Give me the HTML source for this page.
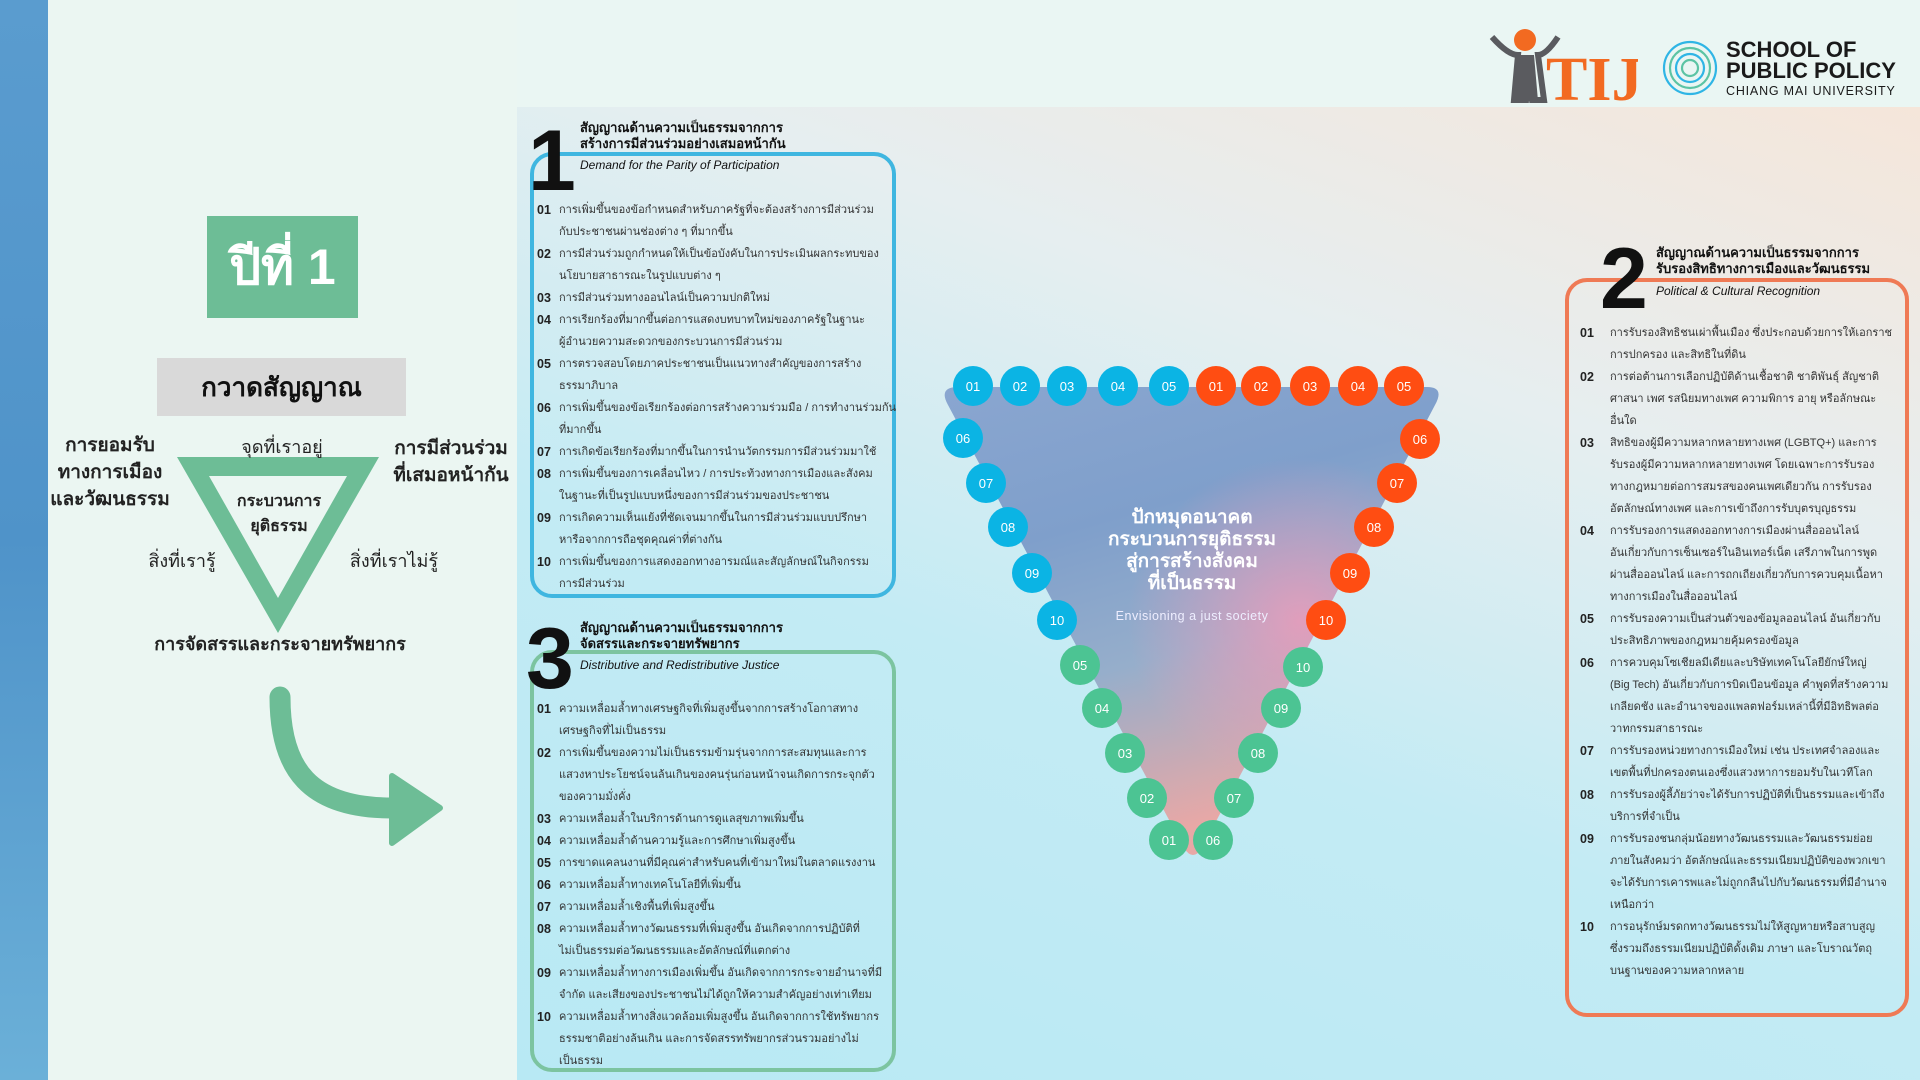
<!DOCTYPE html>
<html><head><meta charset="utf-8">
<style>
*{margin:0;padding:0;box-sizing:border-box}
body{width:1920px;height:1080px;overflow:hidden;position:relative;font-family:"Liberation Sans","DejaVu Sans","Noto Sans CJK SC",sans-serif;background:#eaf5f2;color:#222}
.abs{position:absolute}
.strip{left:0;top:0;width:48px;height:1080px;background:linear-gradient(180deg,#5a9ccf,#4f93c9 50%,#6bb0d8)}
.leftp{left:48px;top:0;width:469px;height:1080px;background:#ebf6f2}
.topb{left:517px;top:0;width:1403px;height:107px;background:#eaf6f3}
.main{left:517px;top:107px;width:1403px;height:973px;background:linear-gradient(200deg,#f5e6da 0%,#e6eef0 30%,#c3ebf4 60%,#b8e9f4 100%)}
.box{position:absolute;border-radius:22px;border:4px solid}
.big{position:absolute;font-weight:900;color:#111;font-size:86px;line-height:1}
.tt{position:absolute;font-weight:bold;font-size:13px;line-height:16px;color:#111;white-space:nowrap}
.st{position:absolute;font-style:italic;font-size:12px;color:#111;white-space:nowrap}
.items{position:absolute;font-size:11px;line-height:22px;color:#333;white-space:nowrap}
.items div{position:relative;padding-left:22px}
.items b{position:absolute;left:0;font-weight:bold;color:#222;font-size:12.5px}
.c{position:absolute;width:40px;height:40px;border-radius:50%;color:#fff;font-size:13px;display:flex;align-items:center;justify-content:center;margin:-20px 0 0 -20px}
.bl{background:#0bb4e4}.or{background:#ff4d12}.gr{background:#4cc493}
.lbl{position:absolute;text-align:center;transform:translateX(-50%);white-space:nowrap}
</style></head><body>
<div class="abs strip"></div>
<div class="abs leftp"></div>
<div class="abs topb"></div>
<div class="abs main"></div>

<div class="abs" style="left:207px;top:216px;width:151px;height:102px;background:#6dbd96;color:#fff;font-weight:bold;font-size:50px;display:flex;align-items:center;justify-content:center">ปีที่ 1</div>
<div class="abs" style="left:157px;top:358px;width:249px;height:58px;background:#d9d9d9;font-weight:bold;font-size:26px;display:flex;align-items:center;justify-content:center;color:#111">กวาดสัญญาณ</div>
<svg class="abs" style="left:0;top:0" width="520" height="1080">
<polygon points="177,457 379,457 278,633" fill="#6dbd96"/>
<polygon points="209,476 347,476 278,598" fill="#ebf6f2"/>
<path d="M280,697 C280,770 310,808 392,808" fill="none" stroke="#6dbd96" stroke-width="21" stroke-linecap="round"/>
<polygon points="392,776 440,808 392,843" fill="#6dbd96" stroke="#6dbd96" stroke-width="6" stroke-linejoin="round"/>
</svg>
<div class="lbl" style="left:282px;top:432px;font-size:18px">จุดที่เราอยู่</div>
<div class="lbl" style="left:110px;top:432px;font-size:19px;font-weight:bold;line-height:27px">การยอมรับ<br>ทางการเมือง<br>และวัฒนธรรม</div>
<div class="lbl" style="left:451px;top:435px;font-size:19px;font-weight:bold;line-height:27px">การมีส่วนร่วม<br>ที่เสมอหน้ากัน</div>
<div class="lbl" style="left:279px;top:489px;font-size:16px;font-weight:bold;line-height:25px">กระบวนการ<br>ยุติธรรม</div>
<div class="lbl" style="left:182px;top:546px;font-size:18px">สิ่งที่เรารู้</div>
<div class="lbl" style="left:394px;top:546px;font-size:18px">สิ่งที่เราไม่รู้</div>
<div class="lbl" style="left:280px;top:629px;font-size:18px;font-weight:bold">การจัดสรรและกระจายทรัพยากร</div>

<svg class="abs" style="left:1488px;top:25px" width="150" height="80">
<circle cx="37" cy="15" r="11" fill="#f26a21"/>
<path d="M4,12 Q20,30 30,30 L26,75 L38,75 L40,45 L44,75 L56,75 L50,30 Q58,30 70,12" fill="none" stroke="#5a5b5f" stroke-width="6"/>
<path d="M30,30 L24,76 L50,76 L46,30Z" fill="#5a5b5f"/>
<text x="58" y="75" font-family="Liberation Serif" font-weight="bold" font-size="62" fill="#f26a21">TIJ</text>
</svg>
<svg class="abs" style="left:1660px;top:40px" width="60" height="60">
<g fill="none" stroke-width="2.2">
<circle cx="30" cy="28" r="26" stroke="#2fb5e5"/>
<circle cx="30" cy="28" r="20" stroke="#5cc4a4"/>
<circle cx="30" cy="28" r="14" stroke="#2fb5e5"/>
<circle cx="30" cy="28" r="8" stroke="#5cc4a4"/>
</g></svg>
<div class="abs" style="left:1726px;top:39px;font-weight:bold;font-size:22px;line-height:21px;color:#1a1a1a">SCHOOL OF<br>PUBLIC POLICY</div>
<div class="abs" style="left:1726px;top:84px;font-size:12.5px;letter-spacing:0.8px;color:#1a1a1a">CHIANG MAI UNIVERSITY</div>

<div class="box" style="left:530px;top:152px;width:366px;height:446px;border-color:#3fb6e0"></div>
<div class="big" style="left:528px;top:118px">1</div>
<div class="tt" style="left:580px;top:120px">สัญญาณด้านความเป็นธรรมจากการ<br>สร้างการมีส่วนร่วมอย่างเสมอหน้ากัน</div>
<div class="st" style="left:580px;top:158px">Demand for the Parity of Participation</div>
<div class="items" style="left:537px;top:199px">
<div><b>01</b>การเพิ่มขึ้นของข้อกำหนดสำหรับภาครัฐที่จะต้องสร้างการมีส่วนร่วม<br>กับประชาชนผ่านช่องต่าง ๆ ที่มากขึ้น</div>
<div><b>02</b>การมีส่วนร่วมถูกกำหนดให้เป็นข้อบังคับในการประเมินผลกระทบของ<br>นโยบายสาธารณะในรูปแบบต่าง ๆ</div>
<div><b>03</b>การมีส่วนร่วมทางออนไลน์เป็นความปกติใหม่</div>
<div><b>04</b>การเรียกร้องที่มากขึ้นต่อการแสดงบทบาทใหม่ของภาครัฐในฐานะ<br>ผู้อำนวยความสะดวกของกระบวนการมีส่วนร่วม</div>
<div><b>05</b>การตรวจสอบโดยภาคประชาชนเป็นแนวทางสำคัญของการสร้าง<br>ธรรมาภิบาล</div>
<div><b>06</b>การเพิ่มขึ้นของข้อเรียกร้องต่อการสร้างความร่วมมือ / การทำงานร่วมกัน<br>ที่มากขึ้น</div>
<div><b>07</b>การเกิดข้อเรียกร้องที่มากขึ้นในการนำนวัตกรรมการมีส่วนร่วมมาใช้</div>
<div><b>08</b>การเพิ่มขึ้นของการเคลื่อนไหว / การประท้วงทางการเมืองและสังคม<br>ในฐานะที่เป็นรูปแบบหนึ่งของการมีส่วนร่วมของประชาชน</div>
<div><b>09</b>การเกิดความเห็นแย้งที่ชัดเจนมากขึ้นในการมีส่วนร่วมแบบปรึกษา<br>หารือจากการถือชุดคุณค่าที่ต่างกัน</div>
<div><b>10</b>การเพิ่มขึ้นของการแสดงออกทางอารมณ์และสัญลักษณ์ในกิจกรรม<br>การมีส่วนร่วม</div>
</div>

<div class="box" style="left:530px;top:650px;width:366px;height:422px;border-color:#7cc4a0"></div>
<div class="big" style="left:526px;top:616px">3</div>
<div class="tt" style="left:580px;top:620px">สัญญาณด้านความเป็นธรรมจากการ<br>จัดสรรและกระจายทรัพยากร</div>
<div class="st" style="left:580px;top:658px">Distributive and Redistributive Justice</div>
<div class="items" style="left:537px;top:698px">
<div><b>01</b>ความเหลื่อมล้ำทางเศรษฐกิจที่เพิ่มสูงขึ้นจากการสร้างโอกาสทาง<br>เศรษฐกิจที่ไม่เป็นธรรม</div>
<div><b>02</b>การเพิ่มขึ้นของความไม่เป็นธรรมข้ามรุ่นจากการสะสมทุนและการ<br>แสวงหาประโยชน์จนล้นเกินของคนรุ่นก่อนหน้าจนเกิดการกระจุกตัว<br>ของความมั่งคั่ง</div>
<div><b>03</b>ความเหลื่อมล้ำในบริการด้านการดูแลสุขภาพเพิ่มขึ้น</div>
<div><b>04</b>ความเหลื่อมล้ำด้านความรู้และการศึกษาเพิ่มสูงขึ้น</div>
<div><b>05</b>การขาดแคลนงานที่มีคุณค่าสำหรับคนที่เข้ามาใหม่ในตลาดแรงงาน</div>
<div><b>06</b>ความเหลื่อมล้ำทางเทคโนโลยีที่เพิ่มขึ้น</div>
<div><b>07</b>ความเหลื่อมล้ำเชิงพื้นที่เพิ่มสูงขึ้น</div>
<div><b>08</b>ความเหลื่อมล้ำทางวัฒนธรรมที่เพิ่มสูงขึ้น อันเกิดจากการปฏิบัติที่<br>ไม่เป็นธรรมต่อวัฒนธรรมและอัตลักษณ์ที่แตกต่าง</div>
<div><b>09</b>ความเหลื่อมล้ำทางการเมืองเพิ่มขึ้น อันเกิดจากการกระจายอำนาจที่มี<br>จำกัด และเสียงของประชาชนไม่ได้ถูกให้ความสำคัญอย่างเท่าเทียม</div>
<div><b>10</b>ความเหลื่อมล้ำทางสิ่งแวดล้อมเพิ่มสูงขึ้น อันเกิดจากการใช้ทรัพยากร<br>ธรรมชาติอย่างล้นเกิน และการจัดสรรทรัพยากรส่วนรวมอย่างไม่<br>เป็นธรรม</div>
</div>

<div class="box" style="left:1565px;top:278px;width:344px;height:739px;border-color:#ef7a55"></div>
<div class="big" style="left:1600px;top:236px">2</div>
<div class="tt" style="left:1656px;top:245px">สัญญาณด้านความเป็นธรรมจากการ<br>รับรองสิทธิทางการเมืองและวัฒนธรรม</div>
<div class="st" style="left:1656px;top:284px">Political &amp; Cultural Recognition</div>
<div class="items" style="left:1580px;top:322px">
<div style="padding-left:30px"><b>01</b>การรับรองสิทธิชนเผ่าพื้นเมือง ซึ่งประกอบด้วยการให้เอกราช<br>การปกครอง และสิทธิในที่ดิน</div>
<div style="padding-left:30px"><b>02</b>การต่อต้านการเลือกปฏิบัติด้านเชื้อชาติ ชาติพันธุ์ สัญชาติ<br>ศาสนา เพศ รสนิยมทางเพศ ความพิการ อายุ หรือลักษณะ<br>อื่นใด</div>
<div style="padding-left:30px"><b>03</b>สิทธิของผู้มีความหลากหลายทางเพศ (LGBTQ+) และการ<br>รับรองผู้มีความหลากหลายทางเพศ โดยเฉพาะการรับรอง<br>ทางกฎหมายต่อการสมรสของคนเพศเดียวกัน การรับรอง<br>อัตลักษณ์ทางเพศ และการเข้าถึงการรับบุตรบุญธรรม</div>
<div style="padding-left:30px"><b>04</b>การรับรองการแสดงออกทางการเมืองผ่านสื่อออนไลน์<br>อันเกี่ยวกับการเซ็นเซอร์ในอินเทอร์เน็ต เสรีภาพในการพูด<br>ผ่านสื่อออนไลน์ และการถกเถียงเกี่ยวกับการควบคุมเนื้อหา<br>ทางการเมืองในสื่อออนไลน์</div>
<div style="padding-left:30px"><b>05</b>การรับรองความเป็นส่วนตัวของข้อมูลออนไลน์ อันเกี่ยวกับ<br>ประสิทธิภาพของกฎหมายคุ้มครองข้อมูล</div>
<div style="padding-left:30px"><b>06</b>การควบคุมโซเชียลมีเดียและบริษัทเทคโนโลยียักษ์ใหญ่<br>(Big Tech) อันเกี่ยวกับการบิดเบือนข้อมูล คำพูดที่สร้างความ<br>เกลียดชัง และอำนาจของแพลตฟอร์มเหล่านี้ที่มีอิทธิพลต่อ<br>วาทกรรมสาธารณะ</div>
<div style="padding-left:30px"><b>07</b>การรับรองหน่วยทางการเมืองใหม่ เช่น ประเทศจำลองและ<br>เขตพื้นที่ปกครองตนเองซึ่งแสวงหาการยอมรับในเวทีโลก</div>
<div style="padding-left:30px"><b>08</b>การรับรองผู้ลี้ภัยว่าจะได้รับการปฏิบัติที่เป็นธรรมและเข้าถึง<br>บริการที่จำเป็น</div>
<div style="padding-left:30px"><b>09</b>การรับรองชนกลุ่มน้อยทางวัฒนธรรมและวัฒนธรรมย่อย<br>ภายในสังคมว่า อัตลักษณ์และธรรมเนียมปฏิบัติของพวกเขา<br>จะได้รับการเคารพและไม่ถูกกลืนไปกับวัฒนธรรมที่มีอำนาจ<br>เหนือกว่า</div>
<div style="padding-left:30px"><b>10</b>การอนุรักษ์มรดกทางวัฒนธรรมไม่ให้สูญหายหรือสาบสูญ<br>ซึ่งรวมถึงธรรมเนียมปฏิบัติดั้งเดิม ภาษา และโบราณวัตถุ<br>บนฐานของความหลากหลาย</div>
</div>

<svg class="abs" style="left:930px;top:370px" width="530" height="500">
<defs>
<linearGradient id="tg" x1="0" y1="0" x2="0.3" y2="1">
<stop offset="0" stop-color="#8aa6d0"/>
<stop offset="0.35" stop-color="#7f9fcb"/>
<stop offset="0.65" stop-color="#96aecb"/>
<stop offset="1" stop-color="#e8a8a6"/>
</linearGradient>
<radialGradient id="pk" cx="0.72" cy="0.5" r="0.35">
<stop offset="0" stop-color="#f39ab8" stop-opacity="0.8"/>
<stop offset="1" stop-color="#f39ab8" stop-opacity="0"/>
</radialGradient>
</defs>
<path d="M28,17 L497,17 Q515,17 505,35 L272,478 Q263,492 254,478 L18,35 Q8,17 28,17Z" fill="url(#tg)"/>
<path d="M28,17 L497,17 Q515,17 505,35 L272,478 Q263,492 254,478 L18,35 Q8,17 28,17Z" fill="url(#pk)"/>
</svg>
<div class="lbl" style="left:1192px;top:507px;color:#fff;font-weight:bold;font-size:19px;line-height:22px">ปักหมุดอนาคต<br>กระบวนการยุติธรรม<br>สู่การสร้างสังคม<br>ที่เป็นธรรม</div>
<div class="lbl" style="left:1192px;top:609px;color:#eef;font-size:12.5px;letter-spacing:0.5px">Envisioning a just society</div>

<div class="c bl" style="left:973px;top:386px">01</div>
<div class="c bl" style="left:1020px;top:386px">02</div>
<div class="c bl" style="left:1067px;top:386px">03</div>
<div class="c bl" style="left:1118px;top:386px">04</div>
<div class="c bl" style="left:1169px;top:386px">05</div>
<div class="c or" style="left:1216px;top:386px">01</div>
<div class="c or" style="left:1261px;top:386px">02</div>
<div class="c or" style="left:1310px;top:386px">03</div>
<div class="c or" style="left:1358px;top:386px">04</div>
<div class="c or" style="left:1404px;top:386px">05</div>
<div class="c bl" style="left:963px;top:438px">06</div>
<div class="c bl" style="left:986px;top:483px">07</div>
<div class="c bl" style="left:1008px;top:527px">08</div>
<div class="c bl" style="left:1032px;top:573px">09</div>
<div class="c bl" style="left:1057px;top:620px">10</div>
<div class="c gr" style="left:1080px;top:665px">05</div>
<div class="c gr" style="left:1102px;top:708px">04</div>
<div class="c gr" style="left:1125px;top:753px">03</div>
<div class="c gr" style="left:1147px;top:798px">02</div>
<div class="c gr" style="left:1169px;top:840px">01</div>
<div class="c gr" style="left:1213px;top:840px">06</div>
<div class="c gr" style="left:1234px;top:798px">07</div>
<div class="c gr" style="left:1258px;top:753px">08</div>
<div class="c gr" style="left:1281px;top:708px">09</div>
<div class="c gr" style="left:1303px;top:667px">10</div>
<div class="c or" style="left:1326px;top:620px">10</div>
<div class="c or" style="left:1350px;top:573px">09</div>
<div class="c or" style="left:1374px;top:527px">08</div>
<div class="c or" style="left:1397px;top:483px">07</div>
<div class="c or" style="left:1420px;top:439px">06</div>
</body></html>
